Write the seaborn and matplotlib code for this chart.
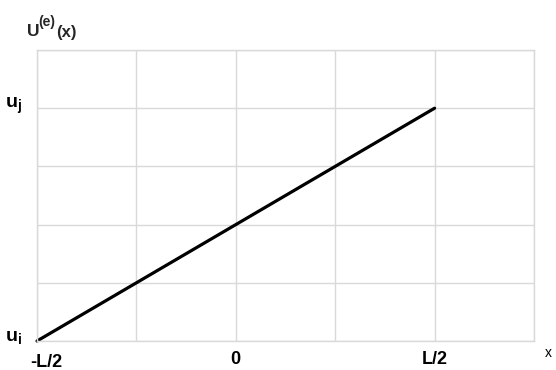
import matplotlib
matplotlib.use("Agg")
import matplotlib.pyplot as plt
import matplotlib.transforms as mtransforms
import seaborn as sns

sns.set_theme(style="whitegrid")
plt.rcParams['font.family'] = ['Liberation Sans', 'DejaVu Sans']
plt.rcParams['mathtext.fontset'] = 'custom'
plt.rcParams['mathtext.rm'] = 'Liberation Sans'
plt.rcParams['mathtext.bf'] = 'Liberation Sans:bold'
plt.rcParams['mathtext.it'] = 'Liberation Sans:italic'

# data: linear shape function over one element
x_vals = [-0.5, 0.5]
u_vals = [0.0, 1.0]

x_ticks = [-0.5, -0.25, 0.0, 0.25, 0.5, 0.75]
x_tick_labels = ['-L/2', '', '0', '', 'L/2', '']
y_ticks = [0.0, 0.25, 0.5, 0.75, 1.0, 1.25]
y_tick_labels = [r'$\mathbf{u_i}$', '', '', '', r'$\mathbf{u_j}$', '']

fig = plt.figure(figsize=(5.56, 3.70), dpi=100)
ax = fig.add_axes([37 / 556, 29 / 370, 497 / 556, 291 / 370])

sns.lineplot(x=x_vals, y=u_vals, ax=ax, color='black', linewidth=2.3,
             clip_on=False)

ax.set_xlim(-0.5, 0.75)
ax.set_ylim(0, 1.25)
ax.set_xticks(x_ticks)
ax.set_xticklabels(x_tick_labels, fontsize=13, fontweight='bold')
ax.set_yticks(y_ticks)
ax.set_yticklabels(y_tick_labels, fontsize=14, va='baseline')

ax.grid(True, color='#d9d9d9', linewidth=1)
for s in ax.spines.values():
    s.set_color('#d9d9d9')
    s.set_linewidth(1)
ax.tick_params(axis='x', length=0, pad=7, colors='black')
ax.tick_params(axis='y', length=0, pad=11, colors='black')

# first x label sits right of its tick in the reference
lab0 = ax.get_xticklabels()[0]
lab0.set_transform(lab0.get_transform() +
                   mtransforms.ScaledTranslation(9 / 100, -3 / 100, fig.dpi_scale_trans))

# y axis title U^(e)(x), built from pieces so the superscript stays large
fig.text(27 / 556, 1 - 36 / 370, 'U', fontsize=12.5, fontweight='bold',
         ha='left', va='baseline')
fig.text(38 / 556, 1 - 26 / 370, '(e)', fontsize=10, fontweight='bold',
         ha='left', va='baseline')
fig.text(56 / 556, 1 - 37 / 370, '(x)', fontsize=12, fontweight='bold',
         ha='left', va='baseline')
fig.text(548 / 556, 1 - 357 / 370, 'x', fontsize=10, ha='center',
         va='baseline', color='black')

fig.savefig("out.png", dpi=100)
